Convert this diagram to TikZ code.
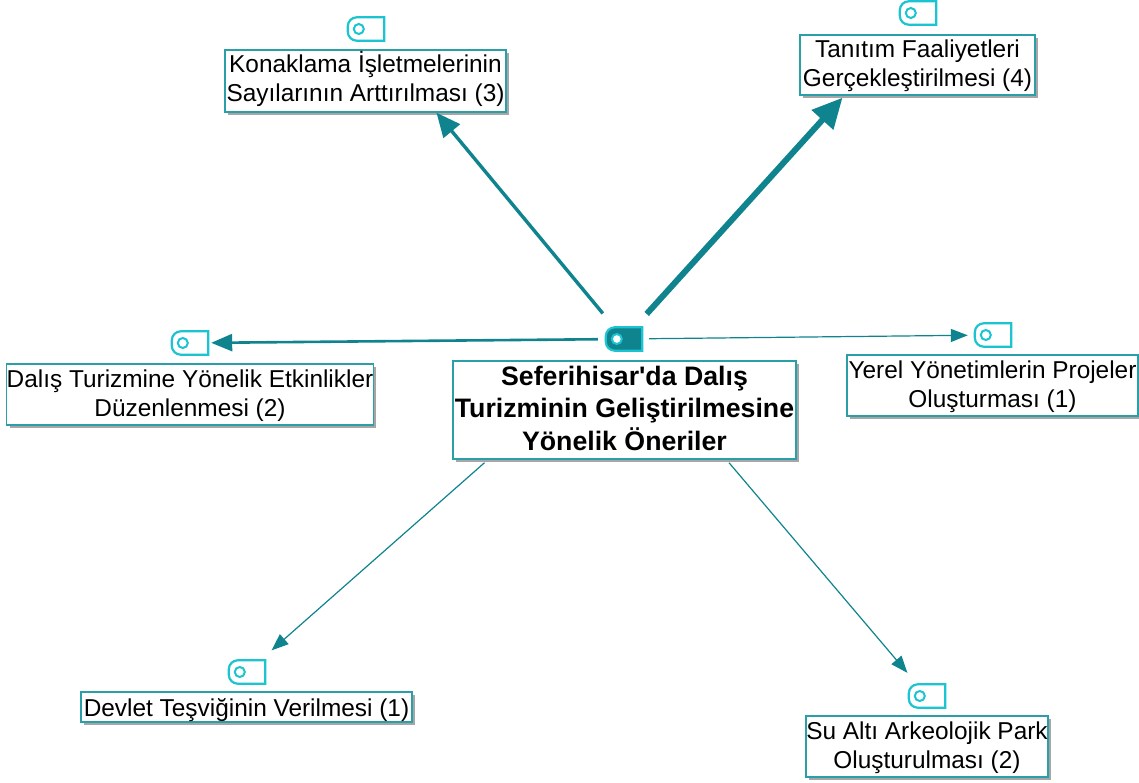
\documentclass[tikz,border=0pt]{standalone}
\usepackage{fontspec}
\newfontfamily\codefont{Liberation Sans}
\usetikzlibrary{arrows.meta,shadows}
\definecolor{linkteal}{HTML}{0F838E}
\definecolor{boxteal}{HTML}{2A9FA8}
\definecolor{tagcyan}{HTML}{1CC3D0}
\newcommand{\tagicon}[3][white]{%
    \node [tagbase] (#2) at (#3) {};
    \draw [tagline, fill=#1] (#2.north east) -- (#2.south east) [rounded corners=9pt] -- (#2.south west) -- (#2.north west) [sharp corners] -- cycle;
    \node [taghole] (#2-hole) at ([xshift=11]#2.west) {};
}
\begin{document}
\begin{tikzpicture}[x=1pt, y=-1pt]
    \tikzstyle{code} = [rectangle, draw=boxteal, line width=1.4pt, fill=white, align=center, inner sep=0pt, text depth=0pt, font=\codefont\fontsize{24.4}{29}\selectfont, general shadow={shadow xshift=3pt, shadow yshift=-3pt, fill=black!35}]
    \tikzstyle{tagbase} = [rectangle, minimum width=36pt, minimum height=23pt, inner sep=0pt]
    \tikzstyle{tagline} = [draw=tagcyan, line width=2.2pt]
    \tikzstyle{taghole} = [circle, draw=tagcyan, fill=white, line width=2pt, minimum size=10pt, inner sep=0pt]
    \tikzstyle{link} = [draw=linkteal, line width=1.2pt, -{Triangle[length=17pt, width=13pt]}]
    \useasboundingbox (0,0) rectangle (1139,783);

    % Central code
    \tagicon[linkteal]{hub}{624,339}
    \node [code, minimum width=343pt, minimum height=98pt, text height=80pt, font=\codefont\fontsize{26.7}{32.5}\selectfont\bfseries] (main) at (624.5,410) {Seferihisar'da Dalış\\Turizminin Geliştirilmesine\\Yönelik Öneriler};

    % Suggestions
    \tagicon{konaklamatag}{366,29}
    \node [code, minimum width=281pt, minimum height=62pt, text height=41pt] (konaklama) at (365.5,81) {Konaklama İşletmelerinin\\Sayılarının Arttırılması (3)};
    \tagicon{tanitimtag}{918,13}
    \node [code, minimum width=235pt, minimum height=60pt, text height=43pt] (tanitim) at (917.5,65) {Tanıtım Faaliyetleri\\Gerçekleştirilmesi (4)};
    \tagicon{dalistag}{190,343}
    \node [code, minimum width=366pt, minimum height=61pt, text height=43pt] (dalis) at (190,394.5) {Dalış Turizmine Yönelik Etkinlikler\\Düzenlenmesi (2)};
    \tagicon{yereltag}{993,335}
    \node [code, minimum width=291pt, minimum height=61pt, text height=44pt] (yerel) at (992.5,385.5) {Yerel Yönetimlerin Projeler\\Oluşturması (1)};
    \tagicon{devlettag}{247,672}
    \node [code, minimum width=331pt, minimum height=30pt, text height=18pt] (devlet) at (246.5,707) {Devlet Teşviğinin Verilmesi (1)};
    \tagicon{sualtitag}{927,696}
    \node [code, minimum width=242pt, minimum height=61pt, text height=43pt] (sualti) at (927,746.5) {Su Altı Arkeolojik Park\\Oluşturulması (2)};

    % Connections
    \draw [link, line width=3.4pt, -{Triangle[length=24pt, width=21pt]}, shorten <=18pt] (hub) -- ([xshift=71pt]konaklama.south);
    \draw [link, line width=6pt, -{Triangle[length=30pt, width=28pt]}, shorten <=18pt] (hub) -- ([xshift=-75pt,yshift=-2pt]tanitim.south);
    \draw [link, line width=2.6pt, -{Triangle[length=21pt, width=17pt]}, shorten <=8pt, shorten >=3pt] (hub) -- (dalistag);
    \draw [link, shorten <=7pt, shorten >=7pt] (hub) -- (yereltag);
    \draw [link, shorten >=15pt] ([xshift=-140pt,yshift=-3pt]main.south) -- (devlettag);
    \draw [link, shorten >=15pt] ([xshift=104.5pt,yshift=-3pt]main.south) -- (sualtitag);
\end{tikzpicture}
\end{document}
